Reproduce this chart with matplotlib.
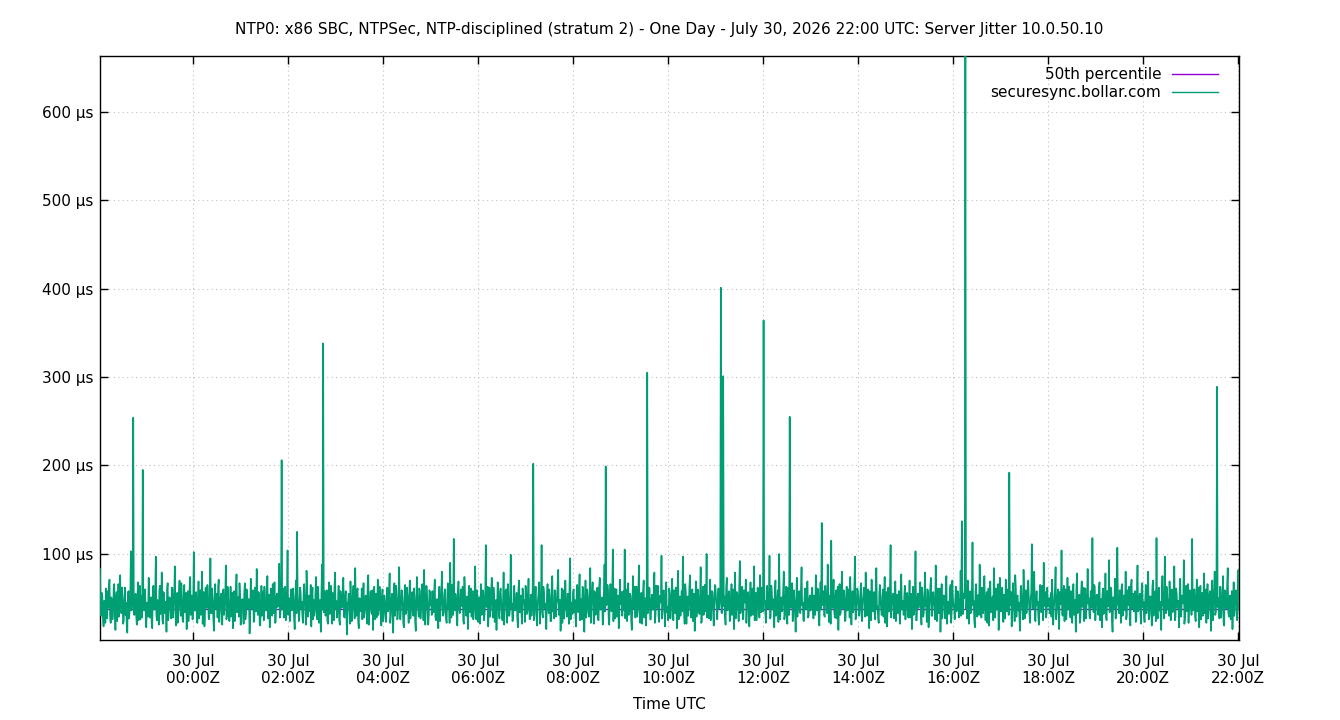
import datetime as dt
import numpy as np
import matplotlib
matplotlib.use("Agg")
import matplotlib.pyplot as plt
import matplotlib.dates as mdates
from matplotlib.ticker import FuncFormatter

# jitter samples (us), one row per hour starting 22:02 on Jul 29.
# Samples alternate: even samples come from jitter_even, odd ones from jitter_odd.
jitter_even = [
    [83, 30, 52, 18, 44, 61, 27, 39, 71, 22, 48, 35, 66, 14, 57, 41, 29, 76, 33, 50,
     24, 62, 45, 11, 58, 37, 103, 43, 254, 31, 55, 20, 68, 40, 26, 47, 195, 36, 60, 17],
    [42, 73, 28, 51, 16, 64, 38, 97, 25, 46, 59, 32, 79, 21, 53, 40, 12, 67, 35, 49,
     27, 61, 44, 86, 19, 56, 37, 70, 30, 52, 23, 65, 41, 15, 58, 34, 74, 45, 26, 102],
    [36, 57, 22, 69, 43, 31, 80, 47, 18, 62, 39, 54, 26, 95, 33, 48, 13, 66, 42, 28,
     71, 37, 55, 20, 60, 45, 87, 30, 50, 24, 63, 40, 16, 58, 35, 77, 44, 29, 53, 38],
    [49, 21, 67, 34, 56, 42, 10, 72, 38, 59, 27, 46, 83, 31, 54, 19, 64, 40, 25, 52,
     36, 75, 44, 17, 61, 30, 48, 68, 23, 55, 41, 89, 33, 206, 46, 28, 63, 37, 104, 50],
    [24, 60, 38, 52, 15, 70, 125, 43, 31, 57, 46, 22, 66, 35, 81, 29, 53, 40, 18, 62,
     48, 34, 74, 26, 55, 39, 12, 88, 338, 44, 30, 59, 21, 68, 41, 36, 56, 25, 79, 47],
    [33, 64, 20, 51, 42, 73, 28, 58, 9, 46, 37, 69, 24, 55, 44, 84, 30, 61, 16, 49,
     39, 26, 67, 35, 53, 21, 76, 43, 58, 32, 14, 63, 47, 28, 71, 40, 54, 19, 60, 36],
    [45, 23, 62, 38, 78, 29, 55, 11, 67, 41, 50, 33, 85, 26, 59, 44, 17, 65, 35, 52,
     22, 70, 40, 57, 30, 48, 13, 74, 37, 61, 27, 53, 46, 82, 20, 64, 39, 31, 56, 43],
    [58, 34, 71, 25, 49, 16, 63, 42, 80, 30, 54, 38, 22, 67, 45, 90, 28, 57, 117, 36,
     47, 19, 69, 33, 60, 41, 24, 74, 39, 52, 15, 64, 44, 29, 58, 35, 86, 26, 50, 40],
    [21, 66, 43, 55, 32, 110, 47, 18, 62, 37, 73, 28, 51, 41, 14, 68, 34, 57, 45, 25,
     79, 39, 60, 22, 53, 31, 99, 44, 27, 64, 38, 56, 17, 70, 42, 33, 61, 48, 23, 58],
    [35, 72, 26, 54, 40, 202, 30, 63, 19, 49, 68, 37, 110, 28, 57, 44, 15, 66, 33, 52,
     24, 75, 41, 59, 29, 47, 82, 36, 13, 61, 43, 27, 70, 38, 55, 21, 95, 45, 32, 60],
    [48, 18, 65, 34, 77, 42, 26, 59, 12, 70, 38, 53, 29, 84, 45, 68, 21, 56, 36, 62,
     25, 73, 40, 51, 31, 88, 199, 44, 57, 20, 66, 35, 105, 47, 27, 60, 39, 16, 71, 43],
    [30, 58, 105, 41, 24, 67, 36, 52, 14, 75, 45, 28, 63, 39, 87, 22, 56, 33, 70, 47,
     19, 305, 42, 61, 26, 54, 37, 79, 31, 50, 64, 23, 46, 98, 35, 59, 18, 68, 40, 29],
    [55, 37, 72, 25, 49, 62, 16, 81, 43, 30, 58, 97, 34, 66, 21, 52, 41, 76, 28, 60,
     46, 13, 69, 38, 54, 32, 85, 24, 63, 44, 35, 100, 50, 27, 71, 40, 57, 19, 65, 48],
    [26, 61, 44, 401, 33, 301, 52, 20, 73, 39, 58, 30, 66, 45, 15, 79, 36, 54, 24, 92,
     42, 63, 29, 48, 71, 37, 57, 18, 68, 43, 31, 86, 50, 25, 62, 40, 76, 34, 55, 364],
    [47, 22, 64, 38, 98, 29, 56, 41, 17, 70, 35, 59, 100, 26, 51, 44, 80, 31, 63, 21,
     54, 255, 39, 67, 28, 48, 12, 73, 42, 58, 33, 85, 45, 24, 61, 37, 69, 30, 53, 40],
    [62, 27, 50, 76, 36, 57, 19, 68, 135, 42, 31, 64, 45, 88, 23, 53, 115, 39, 71, 28,
     59, 46, 14, 66, 34, 80, 41, 55, 25, 63, 37, 49, 74, 20, 58, 43, 97, 32, 61, 45],
    [38, 67, 24, 53, 44, 79, 30, 60, 16, 48, 71, 35, 57, 26, 84, 41, 22, 65, 39, 52,
     29, 74, 46, 18, 62, 36, 110, 43, 55, 27, 69, 40, 33, 58, 21, 77, 47, 31, 64, 42],
    [56, 28, 70, 41, 15, 63, 37, 103, 25, 55, 45, 68, 20, 51, 34, 79, 42, 60, 17, 48,
     73, 30, 57, 39, 87, 24, 61, 44, 12, 66, 36, 53, 27, 75, 46, 32, 59, 22, 70, 40],
    [26, 63, 39, 55, 48, 81, 137, 32, 50, 700, 44, 70, 21, 58, 36, 113, 47, 17, 66, 29,
     54, 88, 40, 62, 33, 75, 25, 57, 43, 19, 69, 38, 52, 84, 28, 61, 45, 14, 73, 35],
    [62, 23, 48, 71, 35, 56, 192, 42, 18, 67, 40, 76, 29, 53, 45, 13, 64, 37, 82, 27,
     59, 44, 70, 31, 50, 111, 38, 80, 24, 58, 46, 20, 65, 34, 55, 90, 41, 28, 62, 49],
    [33, 56, 71, 20, 47, 85, 38, 60, 15, 52, 104, 30, 64, 43, 26, 73, 49, 37, 58, 22,
     66, 41, 12, 78, 35, 54, 29, 69, 45, 24, 61, 39, 83, 50, 27, 57, 118, 34, 63, 44],
    [54, 31, 68, 42, 17, 61, 36, 78, 25, 50, 93, 39, 57, 12, 46, 72, 28, 107, 41, 59,
     22, 66, 37, 53, 80, 30, 48, 63, 19, 71, 43, 35, 58, 26, 87, 40, 55, 21, 67, 46],
    [23, 65, 44, 80, 30, 52, 19, 70, 37, 58, 118, 27, 62, 46, 14, 75, 40, 97, 33, 55,
     48, 69, 25, 60, 38, 86, 29, 56, 43, 17, 72, 35, 51, 93, 28, 64, 41, 22, 59, 47],
    [117, 36, 60, 24, 71, 43, 17, 64, 48, 30, 78, 52, 22, 66, 39, 58, 13, 70, 45, 80,
     34, 289, 50, 27, 62, 41, 75, 19, 56, 38, 84, 29, 53, 44, 15, 68, 36, 59, 25, 82],
]
jitter_odd = [
    [41, 56, 28, 47, 22, 35, 58, 63, 29, 51, 26, 59, 34, 48, 24, 66, 52, 38, 62, 21,
     47, 31, 19, 54, 27, 50, 36, 57, 32, 46, 30, 49, 25, 64, 53, 28, 42, 55, 33, 45],
    [29, 52, 44, 23, 61, 37, 55, 30, 48, 20, 64, 39, 27, 57, 33, 46, 60, 25, 51, 38,
     62, 28, 50, 35, 43, 22, 58, 41, 67, 26, 49, 34, 56, 40, 24, 63, 31, 53, 45, 36],
    [53, 30, 46, 27, 59, 44, 21, 57, 36, 40, 65, 28, 50, 33, 61, 25, 47, 38, 55, 62,
     23, 49, 35, 58, 31, 52, 26, 63, 37, 45, 29, 56, 42, 24, 60, 34, 51, 67, 20, 48],
    [32, 55, 26, 60, 38, 49, 29, 53, 44, 23, 62, 35, 47, 57, 21, 41, 30, 58, 63, 36,
     48, 27, 54, 39, 46, 66, 33, 22, 51, 40, 59, 28, 45, 37, 61, 52, 25, 56, 31, 43],
    [50, 36, 61, 27, 44, 33, 56, 24, 62, 38, 29, 54, 47, 20, 59, 42, 35, 65, 51, 26,
     30, 57, 41, 63, 22, 48, 53, 37, 34, 58, 45, 25, 49, 32, 64, 21, 43, 60, 38, 28],
    [46, 25, 58, 39, 62, 30, 51, 36, 44, 55, 21, 48, 33, 64, 27, 41, 57, 23, 50, 35,
     61, 43, 28, 52, 38, 66, 20, 47, 34, 59, 45, 26, 55, 40, 31, 63, 37, 49, 24, 53],
    [28, 53, 35, 60, 22, 47, 39, 56, 30, 64, 26, 51, 43, 37, 58, 21, 49, 32, 62, 40,
     55, 27, 46, 34, 61, 23, 52, 44, 29, 57, 41, 66, 25, 48, 36, 54, 20, 59, 42, 31],
    [40, 57, 29, 48, 36, 62, 24, 53, 41, 33, 60, 27, 50, 38, 22, 46, 65, 31, 44, 55,
     28, 58, 42, 35, 47, 63, 21, 52, 30, 39, 56, 34, 61, 45, 26, 49, 37, 59, 23, 51],
    [47, 31, 59, 25, 52, 40, 63, 35, 29, 56, 44, 62, 23, 48, 37, 54, 27, 61, 33, 46,
     20, 57, 42, 66, 30, 50, 38, 24, 58, 36, 45, 28, 60, 34, 53, 21, 49, 39, 64, 32],
    [55, 38, 44, 30, 62, 25, 51, 42, 36, 58, 21, 47, 33, 63, 39, 28, 54, 45, 60, 24,
     50, 35, 27, 57, 43, 66, 31, 48, 40, 22, 59, 37, 46, 29, 52, 64, 26, 41, 56, 34],
    [30, 52, 41, 57, 25, 49, 63, 36, 44, 28, 60, 33, 47, 22, 55, 39, 58, 31, 51, 26,
     62, 37, 46, 20, 59, 35, 42, 65, 27, 50, 38, 56, 24, 61, 43, 29, 53, 34, 45, 57],
    [49, 36, 27, 60, 42, 31, 55, 24, 46, 38, 63, 52, 29, 57, 35, 44, 21, 59, 28, 50,
     41, 33, 62, 26, 48, 37, 56, 22, 64, 39, 30, 53, 45, 27, 58, 43, 51, 34, 25, 61],
    [27, 54, 43, 59, 33, 46, 61, 26, 52, 40, 35, 48, 21, 57, 44, 30, 63, 38, 50, 24,
     55, 42, 29, 60, 36, 49, 22, 56, 31, 65, 47, 28, 53, 39, 25, 58, 34, 45, 62, 37],
    [52, 38, 58, 34, 47, 41, 29, 63, 36, 55, 24, 49, 31, 60, 43, 27, 57, 40, 64, 33,
     50, 26, 59, 45, 22, 54, 37, 48, 30, 61, 46, 25, 56, 39, 51, 28, 44, 62, 35, 48],
    [33, 58, 41, 52, 27, 64, 37, 49, 55, 30, 46, 23, 60, 43, 35, 57, 26, 50, 39, 62,
     31, 44, 53, 24, 59, 38, 47, 29, 56, 34, 61, 42, 25, 51, 40, 66, 28, 48, 36, 55],
    [40, 53, 31, 46, 61, 25, 52, 37, 44, 58, 29, 49, 33, 62, 40, 21, 47, 56, 35, 50,
     27, 63, 42, 31, 55, 38, 59, 24, 48, 36, 60, 28, 45, 52, 34, 64, 26, 41, 57, 30],
    [55, 30, 47, 62, 29, 44, 51, 36, 58, 25, 40, 53, 33, 63, 38, 27, 56, 45, 31, 60,
     48, 22, 57, 39, 35, 66, 28, 50, 41, 59, 24, 54, 46, 32, 61, 37, 43, 52, 26, 49],
    [36, 49, 28, 55, 44, 31, 60, 25, 47, 39, 57, 34, 62, 29, 52, 41, 23, 58, 37, 64,
     30, 50, 45, 26, 56, 43, 33, 61, 40, 27, 53, 48, 59, 21, 46, 38, 65, 35, 51, 42],
    [49, 35, 58, 28, 44, 30, 41, 55, 62, 38, 27, 52, 46, 33, 60, 42, 24, 57, 36, 50,
     31, 63, 28, 45, 56, 39, 48, 22, 61, 53, 34, 47, 25, 59, 43, 37, 66, 29, 51, 40],
    [38, 54, 27, 46, 60, 31, 43, 57, 35, 48, 24, 62, 51, 36, 29, 58, 44, 26, 55, 40,
     33, 63, 47, 22, 56, 39, 61, 30, 49, 42, 28, 53, 37, 64, 25, 46, 57, 34, 41, 50],
    [46, 29, 52, 38, 61, 26, 49, 35, 57, 43, 32, 55, 24, 60, 41, 37, 63, 28, 46, 54,
     31, 48, 59, 33, 45, 22, 56, 40, 62, 36, 27, 51, 44, 30, 58, 39, 47, 65, 25, 53],
    [37, 60, 25, 49, 55, 32, 46, 28, 58, 41, 34, 62, 24, 51, 39, 27, 56, 44, 33, 48,
     61, 30, 53, 36, 26, 59, 42, 29, 64, 38, 55, 47, 23, 57, 35, 50, 31, 63, 40, 28],
    [48, 33, 57, 26, 52, 41, 62, 30, 46, 24, 39, 55, 36, 29, 60, 43, 27, 52, 63, 37,
     30, 45, 58, 34, 50, 25, 61, 39, 47, 56, 29, 53, 44, 21, 59, 35, 66, 48, 38, 31],
    [44, 58, 29, 51, 35, 62, 47, 26, 56, 42, 33, 60, 48, 27, 54, 38, 61, 25, 52, 31,
     57, 40, 36, 63, 28, 49, 22, 59, 43, 65, 34, 50, 26, 58, 41, 30, 55, 46, 62, 37],
]
percentile_50 = 38  # us
series_label = "securesync.bollar.com"
title = ("NTP0: x86 SBC, NTPSec, NTP-disciplined (stratum 2) - One Day - "
         "July 30, 2026 22:00 UTC: Server Jitter 10.0.50.10")
y_ticks = [100, 200, 300, 400, 500, 600]

t_start = dt.datetime(2026, 7, 29, 22, 2)
t_end = dt.datetime(2026, 7, 30, 22, 1)

even = np.array(jitter_even, dtype=float).ravel()
odd = np.array(jitter_odd, dtype=float).ravel()
jitter = np.column_stack([even, odd]).ravel()
step = (t_end - t_start) / (len(jitter) - 1)
times = [t_start + i * step for i in range(len(jitter))]

plt.rcParams["font.family"] = ["DejaVu Sans"]
plt.rcParams["font.size"] = 10
plt.rcParams["path.simplify"] = False  # keep every zigzag of the jitter trace

fig = plt.figure(figsize=(13.4, 7.2), dpi=100)
ax = fig.add_axes([100 / 1340, 80 / 720, 1139 / 1340, 584 / 720])

ax.axhline(percentile_50, color="#9400d3", lw=1.0, label="50th percentile", zorder=2)
ax.plot(times, jitter, color="#009e73", lw=1.2, label=series_label, zorder=3)

ax.set_xlim(t_start, t_end)
ax.set_ylim(2.7, 663)

ax.xaxis.set_major_locator(mdates.HourLocator(byhour=range(0, 24, 2)))
ax.xaxis.set_major_formatter(mdates.DateFormatter("%d %b\n%H:%MZ"))
ax.set_yticks(y_ticks)
ax.yaxis.set_major_formatter(FuncFormatter(lambda v, p: "%d µs" % v))

ax.tick_params(direction="in", top=True, right=True, length=6, width=1,
               labelsize=11)
ax.tick_params(axis="x", pad=10)
ax.tick_params(axis="y", pad=5)
ax.grid(True, color="#c0c0c0", linestyle=(0, (1, 3)), lw=0.8)
for s in ax.spines.values():
    s.set_linewidth(1.0)

ax.set_title(title, fontsize=11, pad=16)
ax.set_xlabel("Time UTC", fontsize=11, labelpad=8)

leg = ax.legend(loc="upper right", frameon=False, markerfirst=False, fontsize=11,
                handlelength=3.0, handletextpad=0.72, borderaxespad=0.0,
                bbox_to_anchor=(0.987, 0.9916), labelspacing=0.2)
for h in leg.get_lines():
    h.set_linewidth(1.0)

fig.savefig("out.png", dpi=100)
